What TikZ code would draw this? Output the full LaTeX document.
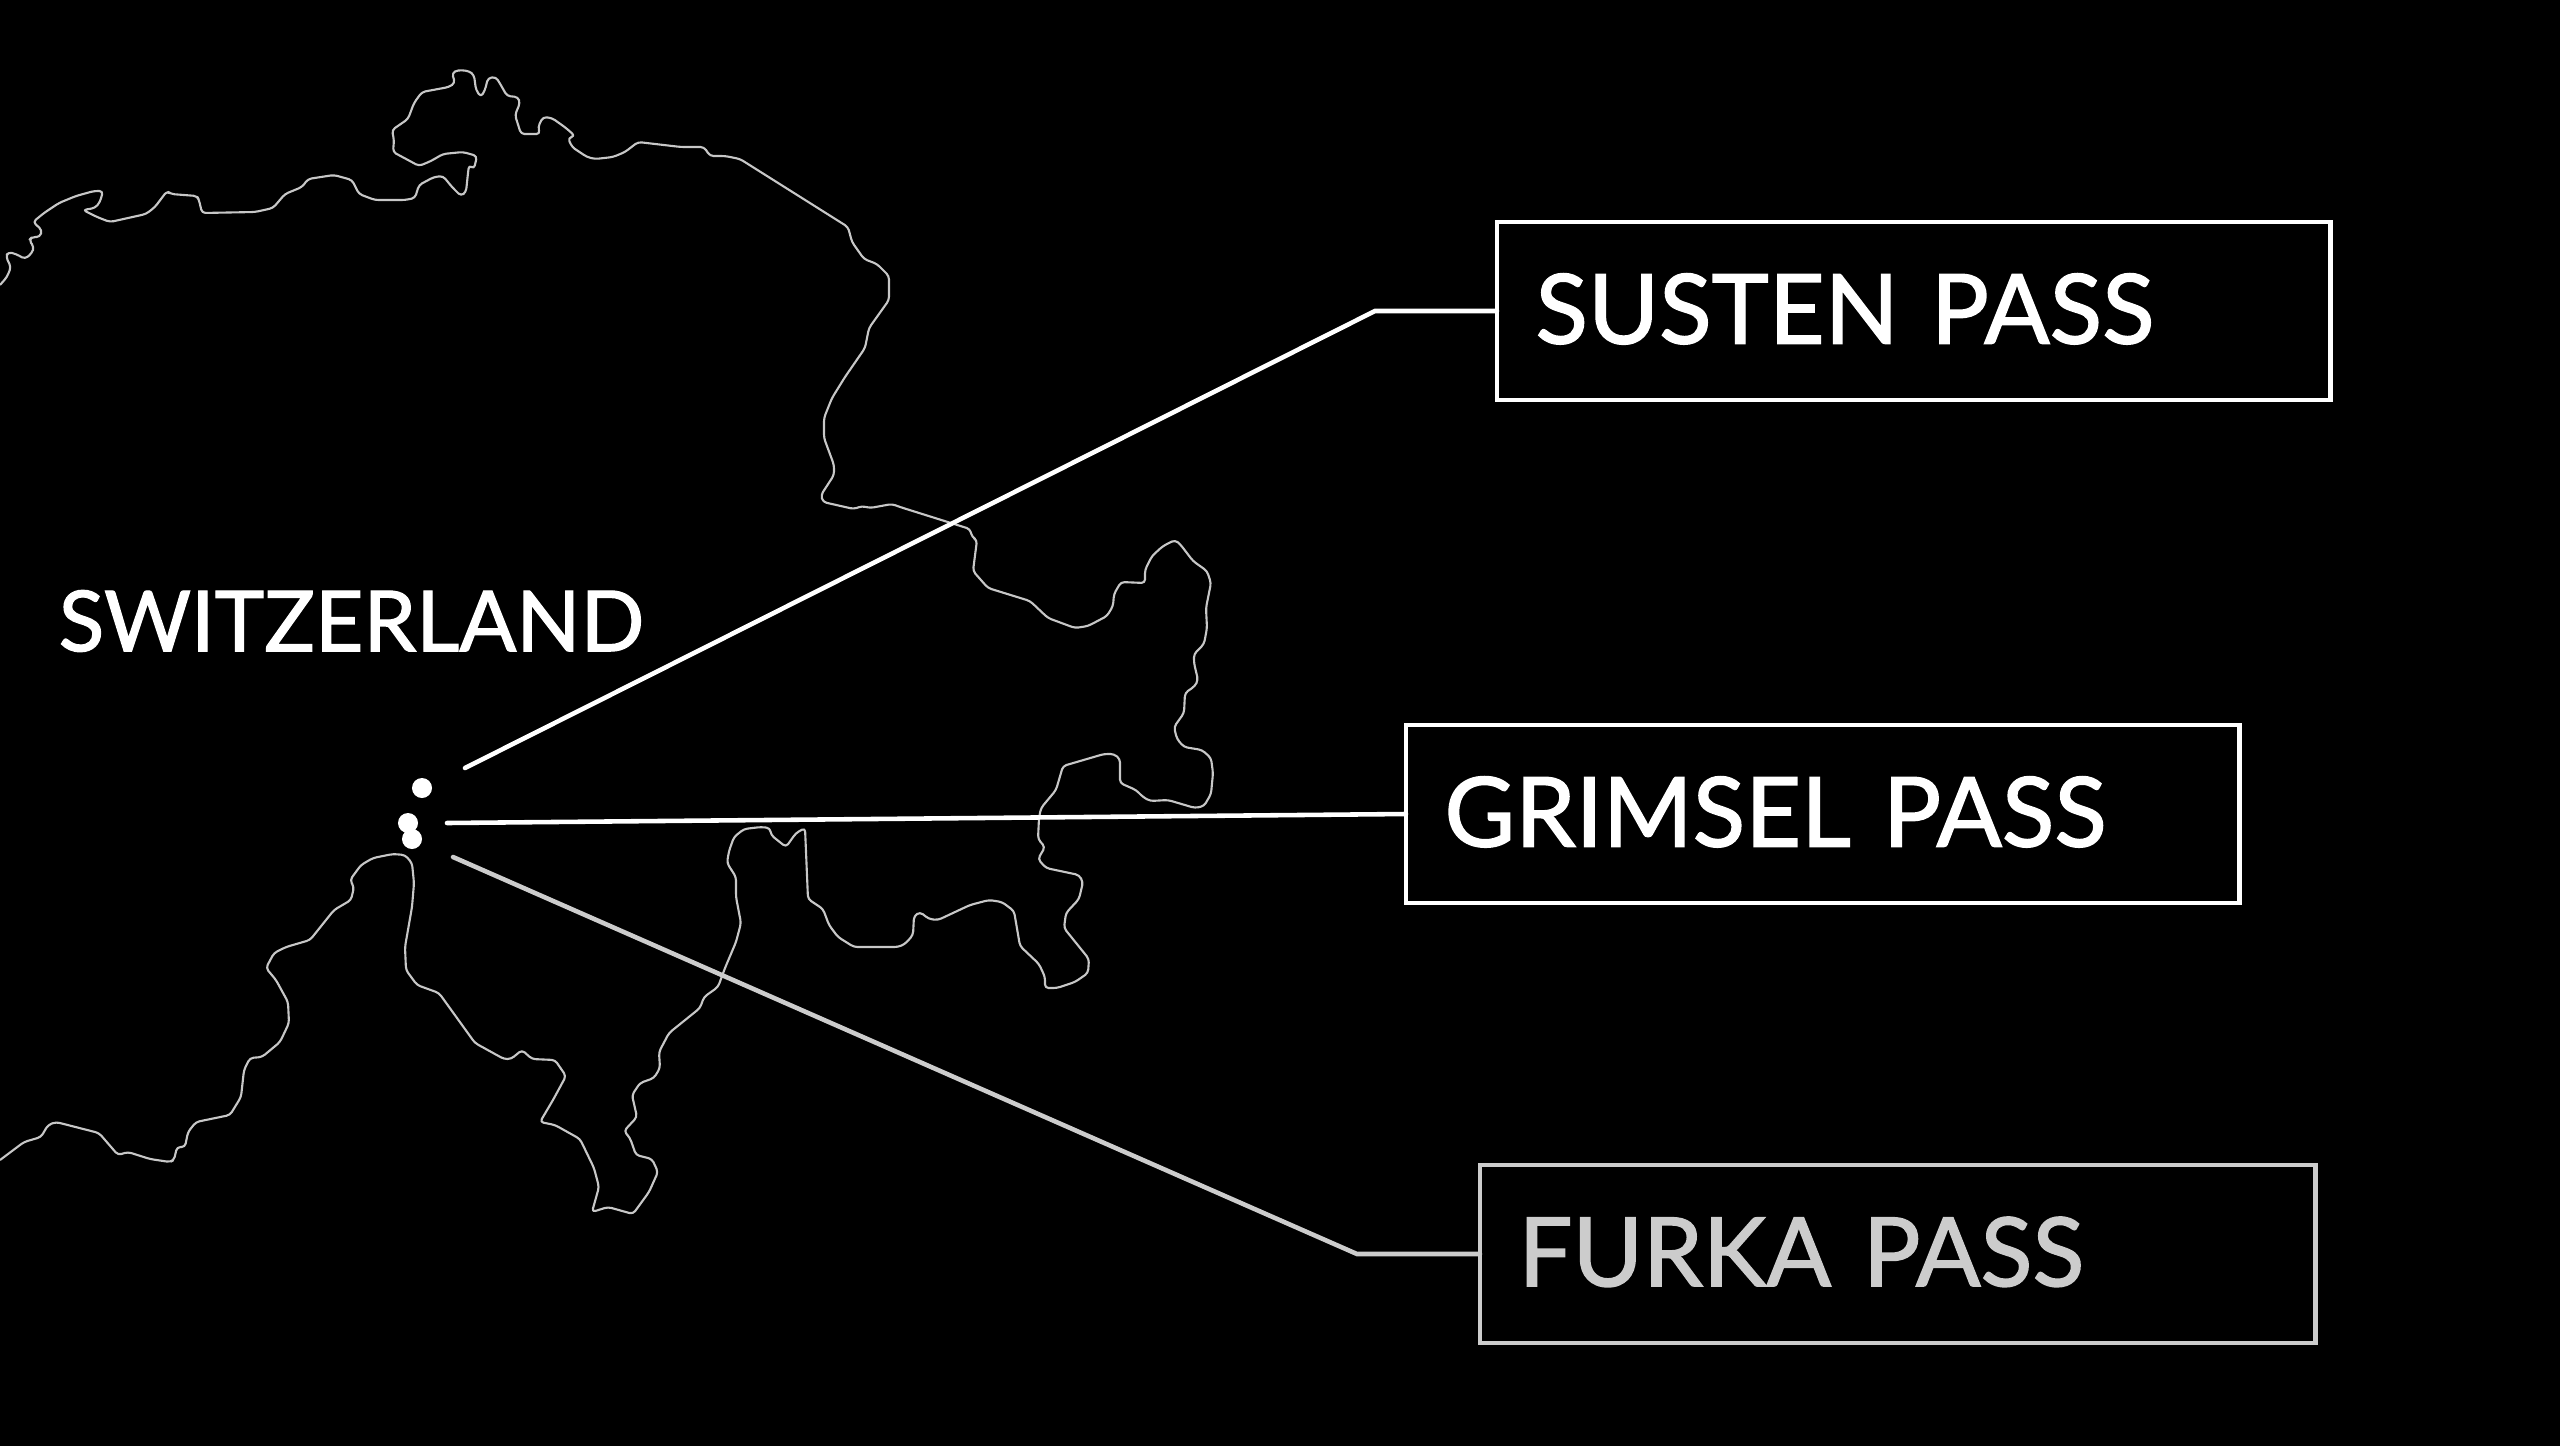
\documentclass[tikz,border=0pt]{standalone}
\usepackage{xcolor}
\usepackage{fontspec}
\setmainfont{Lato}[FakeBold=1.5]
\definecolor{mapgray}{gray}{0.78}
\definecolor{furkagray}{gray}{0.8}
\tikzset{
    passbox/.style={draw=white, line width=1.3pt, text=white, rectangle, align=left, outer sep=0pt,
        text width=7.56cm, inner xsep=0.385cm, minimum height=1.78cm, text depth=0.05cm, anchor=west,
        font=\fontsize{27.5}{32}\selectfont},
    leader/.style={white, line width=1.3pt, line cap=round},
    border/.style={mapgray, line width=0.6pt, line join=round, rounded corners=1pt},
    passdot/.style={circle, fill=white, inner sep=0pt, minimum size=0.2cm}
}
\begin{document}
\begin{tikzpicture}[x=0.01cm, y=-0.01cm]
    \useasboundingbox (0,0) rectangle (2560,1445);
    \fill[black] (-20,-20) rectangle (2580,1465);
    % border
    \draw[border] (0,285) -- (7,277) -- (11,267) -- (6,257) -- (8,252) -- (16,254) -- (25,259) -- (32,253) -- (34,247) -- (29,240)
        -- (32,237) -- (40,237) -- (42,230) -- (33,222) -- (44,213) -- (59,203) -- (76,196) -- (94,191) -- (103,191) -- (100,202)
        -- (95,208) -- (83,210) -- (97,217) -- (110,222) -- (146,214) -- (155,207) -- (167,191) -- (171,194) -- (197,196) -- (199,200)
        -- (202,213) -- (255,212) -- (273,208) -- (285,194) -- (302,187) -- (308,179) -- (334,175) -- (352,180) -- (359,194) -- (375,200)
        -- (405,200) -- (415,198) -- (419,185) -- (434,177) -- (443,176) -- (452,187) -- (461,196) -- (466,192) -- (468,173) -- (469,165)
        -- (474,169) -- (477,156) -- (463,152) -- (443,154) -- (431,161) -- (419,166) -- (408,160) -- (393,152) -- (394,140) -- (392,130)
        -- (408,119) -- (414,103) -- (422,92) -- (449,87) -- (455,83) -- (452,73) -- (458,70) -- (469,71) -- (474,75) -- (476,90)
        -- (481,97) -- (485,90) -- (488,78) -- (496,77) -- (502,87) -- (507,96) -- (518,97) -- (520,103) -- (515,115) -- (521,134)
        -- (540,134) -- (538,127) -- (543,117) -- (552,118) -- (566,128) -- (575,136) -- (568,138) -- (572,147) -- (587,157) -- (595,159)
        -- (613,157) -- (625,152) -- (638,142) -- (681,147) -- (704,147) -- (710,156) -- (725,156) -- (740,159) -- (848,227) -- (852,242)
        -- (864,259) -- (877,264) -- (889,276) -- (889,300) -- (869,328) -- (865,348) -- (845,377) -- (832,398) -- (824,418) -- (824,438)
        -- (834,465) -- (834,475) -- (821,495) -- (823,502) -- (854,509) -- (862,506) -- (870,508) -- (892,504) -- (900,507) -- (970,529)
        -- (972,537) -- (977,540) -- (973,571) -- (988,588) -- (1030,601) -- (1048,618) -- (1075,628) -- (1088,626) -- (1107,616) -- (1113,606)
        -- (1114,594) -- (1121,582) -- (1145,583) -- (1145,570) -- (1152,556) -- (1163,546) -- (1175,540) -- (1180,544) -- (1193,561) -- (1207,571)
        -- (1211,583) -- (1206,608) -- (1207,628) -- (1204,644) -- (1194,654) -- (1194,663) -- (1198,680) -- (1195,686) -- (1185,693) -- (1184,713)
        -- (1174,727) -- (1177,739) -- (1184,747) -- (1202,750) -- (1211,758) -- (1213,773) -- (1211,794) -- (1204,806) -- (1195,808) -- (1168,800)
        -- (1150,801) -- (1143,797) -- (1136,790) -- (1120,783) -- (1120,759) -- (1114,754) -- (1104,754) -- (1063,766) -- (1056,790) -- (1041,808)
        -- (1039,818) -- (1038,839) -- (1045,847) -- (1038,859) -- (1046,868) -- (1079,875) -- (1083,882) -- (1079,899) -- (1066,913) -- (1064,928)
        -- (1089,959) -- (1088,973) -- (1075,982) -- (1057,988) -- (1045,988) -- (1045,977) -- (1039,964) -- (1020,946) -- (1014,911) -- (1002,902)
        -- (989,900) -- (970,905) -- (938,920) -- (929,919) -- (920,912) -- (914,916) -- (913,935) -- (905,944) -- (898,947) -- (854,947)
        -- (838,937) -- (829,925) -- (823,909) -- (808,899) -- (805,828) -- (796,833) -- (786,847) -- (771,835) -- (770,828) -- (761,827)
        -- (744,829) -- (734,837) -- (729,851) -- (727,863) -- (736,877) -- (736,897) -- (741,923) -- (736,942) -- (725,968) -- (718,987)
        -- (704,997) -- (700,1008) -- (669,1033) -- (659,1052) -- (660,1068) -- (654,1078) -- (640,1083) -- (632,1095) -- (637,1117) -- (624,1131)
        -- (630,1138) -- (636,1155) -- (652,1159) -- (658,1172) -- (649,1192) -- (633,1214) -- (608,1207) -- (592,1212) -- (599,1187) -- (594,1168)
        -- (580,1139) -- (555,1125) -- (540,1122) -- (553,1100) -- (566,1076) -- (555,1060) -- (532,1059) -- (522,1050) -- (511,1059) -- (504,1059)
        -- (475,1043) -- (439,993) -- (417,985) -- (406,970) -- (405,947) -- (412,907) -- (414,883) -- (412,863) -- (405,855) -- (393,854)
        -- (373,858) -- (361,865) -- (350,880) -- (354,887) -- (351,900) -- (334,910) -- (310,940) -- (286,947) -- (274,953) -- (266,968)
        -- (276,980) -- (288,1002) -- (289,1023) -- (280,1042) -- (262,1057) -- (250,1058) -- (244,1070) -- (241,1097) -- (230,1115) -- (196,1122)
        -- (188,1132) -- (185,1147) -- (177,1147) -- (174,1160) -- (170,1162) -- (150,1159) -- (128,1152) -- (118,1155) -- (99,1133) -- (56,1122)
        -- (48,1125) -- (41,1137) -- (24,1142) -- (0,1160);
    % country label
    \node[text=white, anchor=west, inner sep=0pt, font=\fontsize{23.9}{28}\selectfont] (switzerland) at (58,621) {SWITZERLAND};
    % passes
    \node[passdot] (sustendot) at (422,788) {};
    \node[passdot] (grimseldot) at (408,823) {};
    \node[passdot] (furkadot) at (412,839) {};
    % boxes
    \node[passbox] (susten) at (1497,311) {SUSTEN PASS};
    \node[passbox] (grimsel) at (1406,814) {GRIMSEL PASS};
    \node[passbox, draw=furkagray, text=furkagray, text width=7.58cm, font=\fontsize{27.2}{32}\selectfont] (furka) at (1480,1254) {FURKA PASS};
    % leaders
    \coordinate (sustenstart) at (465,768);
    \coordinate (sustenelbow) at (1375,311);
    \coordinate (grimselstart) at (447,823);
    \coordinate (furkastart) at (453,857);
    \coordinate (furkaelbow) at (1357,1254);
    \draw[leader] (sustenstart) -- (sustenelbow) -- (susten.west);
    \draw[leader] (grimselstart) -- (grimsel.west);
    \draw[leader, furkagray] (furkastart) -- (furkaelbow) -- (furka.west);
\end{tikzpicture}
\end{document}
